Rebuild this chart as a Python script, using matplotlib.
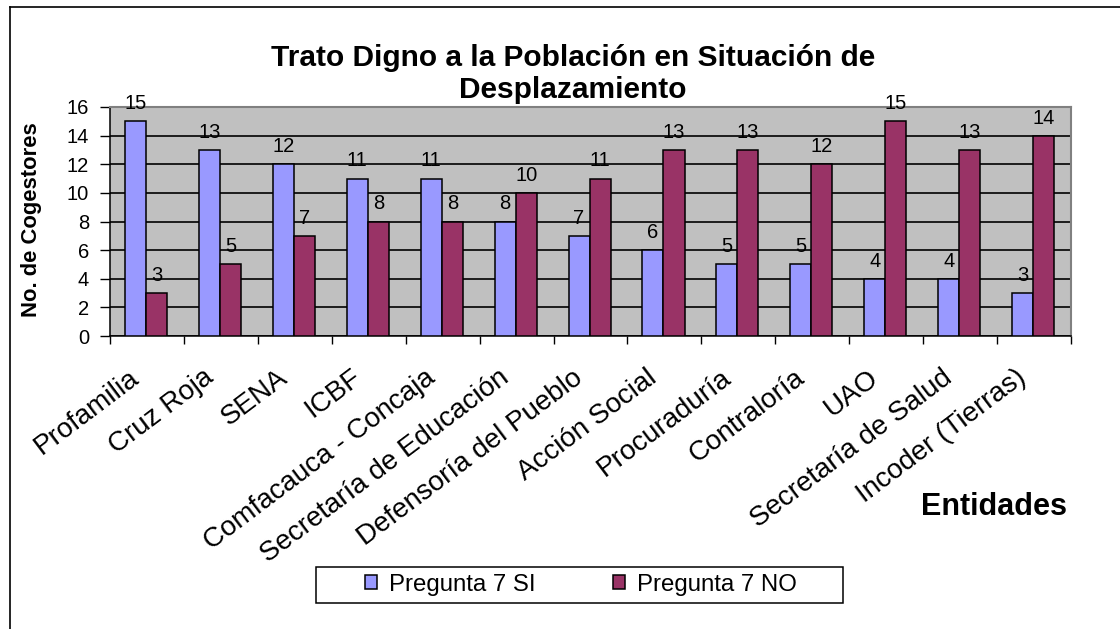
import matplotlib.pyplot as plt
import numpy as np
from matplotlib.lines import Line2D
from matplotlib.patches import Rectangle

plt.rcParams['font.family'] = ['Liberation Sans', 'DejaVu Sans']

# data
categories = ['Profamilia', 'Cruz Roja', 'SENA', 'ICBF', 'Comfacauca - Concaja',
              'Secretaría de Educación', 'Defensoría del Pueblo', 'Acción Social',
              'Procuraduría', 'Contraloría', 'UAO', 'Secretaría de Salud',
              'Incoder (Tierras)']
si_values = [15, 13, 12, 11, 11, 8, 7, 6, 5, 5, 4, 4, 3]
no_values = [3, 5, 7, 8, 8, 10, 11, 13, 13, 12, 15, 13, 14]
series_names = ['Pregunta 7 SI', 'Pregunta 7 NO']

SI_COLOR = '#9999FF'
NO_COLOR = '#993366'
W, H = 1120, 629


def fx(px):
    return px / W


def fy(py):
    return 1 - py / H


fig = plt.figure(figsize=(11.2, 6.29), dpi=100)
ax = fig.add_axes([fx(110), fy(336), (1071 - 110) / W, (336 - 107) / H])
ax.set_facecolor('#C0C0C0')

x = np.arange(len(categories))
w = 0.285
b1 = ax.bar(x - 0.155, si_values, w, color=SI_COLOR, edgecolor='black', linewidth=1.1, label=series_names[0], zorder=3)
b2 = ax.bar(x + 0.13, no_values, w, color=NO_COLOR, edgecolor='black', linewidth=1.1, label=series_names[1], zorder=3)

for bars in (b1, b2):
    for rect in bars:
        h = rect.get_height()
        ax.annotate(f'{h:g}', (rect.get_x() + rect.get_width() / 2, h),
                    xytext=(0, 8.7), textcoords='offset points',
                    ha='center', va='baseline', fontsize=14.5, zorder=4)

ax.set_xlim(-0.5, len(categories) - 0.5)
ax.set_ylim(0, 16)
ax.set_yticks(range(0, 17, 2))
ax.yaxis.grid(True, color='black', linewidth=1.2, zorder=1)
ax.set_axisbelow(True)
ax.tick_params(axis='y', direction='out', length=7, width=1, labelsize=14.5, pad=8)

# tick marks at category boundaries, labels drawn separately
ax.set_xticks(np.arange(len(categories) + 1) - 0.5)
ax.set_xticklabels([])
ax.tick_params(axis='x', direction='out', length=6, width=1)

for i, name in enumerate(categories):
    ax.annotate(name, (i, 0), xycoords=('data', 'axes fraction'),
                xytext=(-7.5, -28), textcoords='offset points',
                rotation=37, rotation_mode='anchor', ha='right', va='center',
                fontsize=20, annotation_clip=False)

for s in ('top', 'right'):
    ax.spines[s].set_color('#808080')
    ax.spines[s].set_linewidth(1.5)
for s in ('left', 'bottom'):
    ax.spines[s].set_color('black')
    ax.spines[s].set_linewidth(1.1)

fig.text(fx(573), fy(66), 'Trato Digno a la Población en Situación de',
         ha='center', va='baseline', fontsize=21.5, fontweight='bold')
fig.text(fx(573), fy(98), 'Desplazamiento',
         ha='center', va='baseline', fontsize=21.5, fontweight='bold')
fig.text(fx(32), fy(220), 'No. de Cogestores', rotation=90, ha='center', va='center',
         fontsize=15.8, fontweight='bold')
fig.text(fx(994), fy(515), 'Entidades', ha='center', va='baseline', fontsize=22, fontweight='bold')

# legend with its own box
fig.add_artist(Rectangle((fx(316), fy(603)), (843 - 316) / W, (603 - 567) / H,
                         transform=fig.transFigure, facecolor='white', edgecolor='black',
                         linewidth=1.1, zorder=2))
leg = fig.legend(handles=[b1, b2], loc='center', bbox_to_anchor=(fx(581), fy(585)),
                 ncol=2, fontsize=17.3, frameon=False,
                 handlelength=0.52, handleheight=0.52, handletextpad=0.5, columnspacing=3.2,
                 borderpad=0.2)
leg.set_zorder(3)

# outer frame
fig.add_artist(Line2D([fx(10), fx(10)], [0, fy(7)], color='black', linewidth=1.2, transform=fig.transFigure))
fig.add_artist(Line2D([fx(10), 1], [fy(7), fy(7)], color='black', linewidth=1.2, transform=fig.transFigure))

plt.savefig('out.png', dpi=100)
